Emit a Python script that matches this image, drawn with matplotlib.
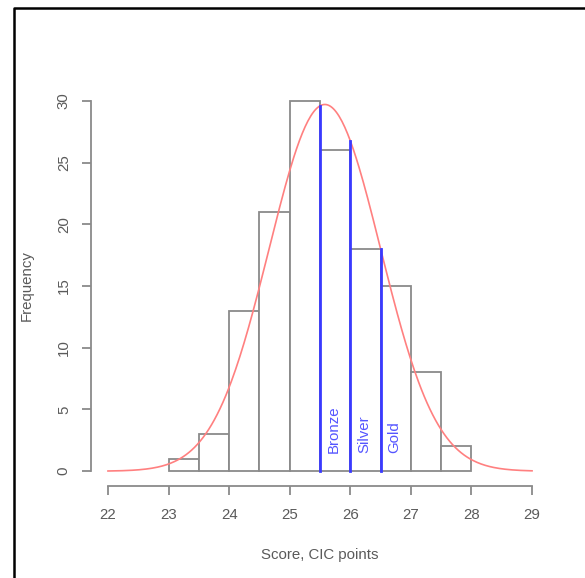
import numpy as np
import matplotlib.pyplot as plt
from matplotlib.lines import Line2D

# histogram of scores (bin edges, counts)
bin_edges = [23.0, 23.5, 24.0, 24.5, 25.0, 25.5, 26.0, 26.5, 27.0, 27.5, 28.0]
counts = [1, 3, 13, 21, 30, 26, 18, 15, 8, 2]

# fitted normal curve parameters
fit_mean = 25.58
fit_sd = 0.92

# medal cut-offs
medal_names = ["Bronze", "Silver", "Gold"]
medal_scores = [25.5, 26.0, 26.5]

x_ticks = [22, 23, 24, 25, 26, 27, 28, 29]
y_ticks = [0, 5, 10, 15, 20, 25, 30]

plt.rcParams['font.family'] = ['Liberation Sans', 'DejaVu Sans']
txt_col = "#5a5a5a"
fs = 10.8

fig = plt.figure(figsize=(5.85, 5.78), dpi=100)
ax = fig.add_axes([91 / 585, 1 - 486 / 578, 458 / 585, 400 / 578])

widths = np.diff(bin_edges)
ax.bar(bin_edges[:-1], counts, width=widths, align="edge",
       facecolor="white", edgecolor="#8a8a8a", linewidth=1.3)

# normal density scaled to counts
n = sum(counts)
bw = widths[0]
def curve(x):
    return n * bw * np.exp(-(x - fit_mean) ** 2 / (2 * fit_sd ** 2)) / (fit_sd * np.sqrt(2 * np.pi))

xs = np.linspace(22, 29, 300)
ax.plot(xs, curve(xs), color="#ff8080", linewidth=1.2, zorder=3)

for name, s in zip(medal_names, medal_scores):
    ax.plot([s, s], [0, curve(s)], color="#3a3aff", linewidth=2, zorder=4)
    ax.text(s + 0.23, 1.5, name, rotation=90, ha="center", va="bottom",
            color="#5555ff", fontsize=fs)

ax.set_xlim(21.72, 29.28)
ax.set_ylim(-1.2, 31.2)
ax.set_xticks(x_ticks)
ax.set_yticks(y_ticks)
ax.set_yticklabels([str(v) for v in y_ticks], rotation=90, va="center")

for side in ["top", "right"]:
    ax.spines[side].set_visible(False)
ax.spines["left"].set_bounds(0, 30)
ax.spines["bottom"].set_bounds(22, 29)
for side in ["left", "bottom"]:
    ax.spines[side].set_color("#8a8a8a")
    ax.spines[side].set_linewidth(1.3)
ax.tick_params(direction="out", length=6.5, width=1.3, color="#8a8a8a",
               labelcolor=txt_col, labelsize=fs)
ax.tick_params(axis="x", pad=9)
ax.tick_params(axis="y", pad=8)

ax.set_xlabel("Score, CIC points", color=txt_col, fontsize=fs, va="center")
ax.xaxis.set_label_coords(0.5, -0.1725)
ax.set_ylabel("Frequency", color=txt_col, fontsize=fs, va="center")
ax.yaxis.set_label_coords(-0.14, 0.5)

# black frame on the left and top (crop of a bordered figure)
fx = 14 / 585
fy = 1 - 7.5 / 578
fig.add_artist(Line2D([fx, fx, 1], [0, fy, fy], color="black", linewidth=1.8,
                      transform=fig.transFigure))

fig.savefig("out.png", dpi=100)
